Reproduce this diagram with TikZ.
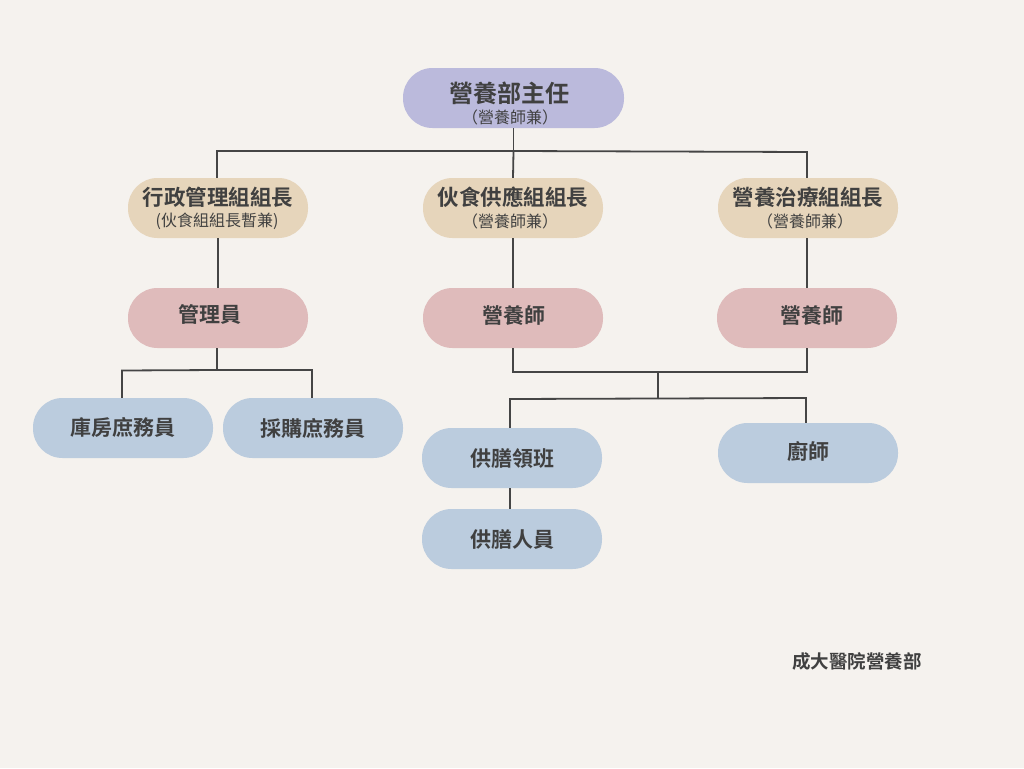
\documentclass[tikz,border=0pt]{standalone}
\usepackage{fontspec}
\setmainfont{Noto Sans CJK TC}[BoldFont={* Bold}]
\definecolor{bg}{HTML}{F5F2EE}
\definecolor{lav}{HTML}{BBBADC}
\definecolor{tan}{HTML}{E6D5BB}
\definecolor{pinkc}{HTML}{DFBBBB}
\definecolor{bluec}{HTML}{BBCCDE}
\definecolor{ink}{HTML}{404040}
\definecolor{linec}{HTML}{454545}
\begin{document}
\begin{tikzpicture}[x=1pt,y=-1pt,
  pill/.style={rectangle,rounded corners=29.5pt,minimum width=180pt,minimum height=60pt,inner sep=0pt,text=ink,align=center,font=\bfseries\fontsize{21}{24}\selectfont},
  lbl/.style={text=ink,inner sep=0pt,font=\bfseries\fontsize{21}{24}\selectfont},
  sub/.style={text=ink,inner sep=0pt,font=\fontsize{16}{18}\selectfont},
  conn/.style={draw=linec,line width=1.8pt}]
\fill[bg] (0,0) rectangle (1024,768);
\useasboundingbox (0,0) rectangle (1024,768);
% nodes
\node[pill,fill=lav,minimum width=221pt] (dir) at (513.5,98) {};
\node[lbl,font=\bfseries\fontsize{24}{28}\selectfont] (dirt) at (509,93) {營養部主任};
\node[sub] (dirs) at (510,117) {（營養師兼）};
\node[pill,fill=tan] (adm) at (218,208) {};
\node[lbl,font=\bfseries\fontsize{21.5}{24}\selectfont] (admt) at (218,197) {行政管理組組長};
\node[sub] (adms) at (217,221) {(伙食組組長暫兼)};
\node[pill,fill=tan] (food) at (513,208) {};
\node[lbl,font=\bfseries\fontsize{21.5}{24}\selectfont] (foodt) at (513,197) {伙食供應組組長};
\node[sub] (foods) at (510,221) {（營養師兼）};
\node[pill,fill=tan] (ther) at (808,208) {};
\node[lbl,font=\bfseries\fontsize{21.5}{24}\selectfont] (thert) at (808,197) {營養治療組組長};
\node[sub] (thers) at (805,221) {（營養師兼）};
\node[pill,fill=pinkc] (mgr) at (218,318) {};
\node[lbl] (mgrt) at (210,314) {管理員};
\node[pill,fill=pinkc] (diet1) at (513,318) {};
\node[lbl] (diet1t) at (514,316) {營養師};
\node[pill,fill=pinkc] (diet2) at (807,318) {};
\node[lbl] (diet2t) at (812,316) {營養師};
\node[pill,fill=bluec] (store) at (123,428) {庫房庶務員};
\node[pill,fill=bluec] (buy) at (313,428) {採購庶務員};
\node[pill,fill=bluec] (lead) at (512,458) {供膳領班};
\node[pill,fill=bluec] (cook) at (808,453) {};
\node[lbl] (cookt) at (808,451) {廚師};
\node[pill,fill=bluec] (staff) at (512,539) {供膳人員};
\node[lbl,font=\bfseries\fontsize{18.5}{22}\selectfont] (foot) at (857,661) {成大醫院營養部};
% connectors
\coordinate (j1) at (513.5,151);
\coordinate (j2) at (217,370);
\coordinate (j3) at (658,372);
\coordinate (j4) at (658,398.5);
\draw[conn] (dir.south) -- (j1);
\draw[conn] (j1) -- (217,151) -- (adm.north -| 217,0);
\draw[conn] (j1) -- (807,152) -- (ther.north -| 807,0);
\draw[conn] (j1) -- (food.north);
\draw[conn] (adm.south) -- (mgr.north);
\draw[conn] (food.south) -- (diet1.north);
\draw[conn] (ther.south -| 807,0) -- (diet2.north);
\draw[conn] (mgr.south -| 217,0) -- (j2);
\draw[conn] (j2) -- (122,370.5) -- (store.north -| 122,0);
\draw[conn] (j2) -- (312,370) -- (buy.north -| 312,0);
\draw[conn] (diet1.south) -- (513,372) -- (j3);
\draw[conn] (diet2.south) -- (807,372) -- (j3);
\draw[conn] (j3) -- (j4);
\draw[conn] (j4) -- (510,399) -- (lead.north -| 510,0);
\draw[conn] (j4) -- (806,398) -- (cook.north -| 806,0);
\draw[conn] (lead.south -| 510,0) -- (staff.north -| 510,0);
\end{tikzpicture}
\end{document}
